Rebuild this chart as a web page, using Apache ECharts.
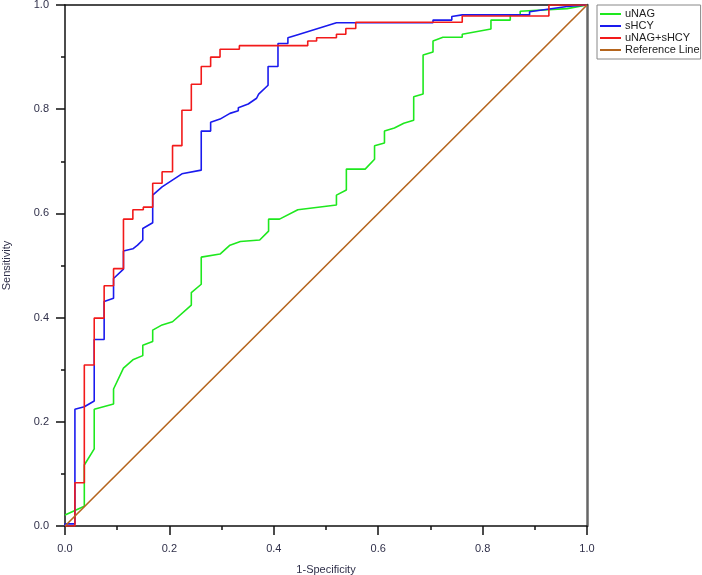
<!DOCTYPE html>
<html>
<head>
<meta charset="utf-8">
<title>ROC</title>
<script src="https://cdn.jsdelivr.net/npm/echarts@6/dist/echarts.min.js"></script>
<style>
  html, body {margin: 0; padding: 0; background: #fff;}
  #main {width: 702px; height: 575px;}
</style>
</head>
<body>
<div id="main"></div>
<script>
(function(){
  'use strict';

  /*
    ROC curve points, [1-specificity, sensitivity]
  */
  var seriesNames = ['uNAG', 'sHCY', 'uNAG+sHCY', 'Reference Line'];

  var unagPts = [
    [0, 0.021], [0.037, 0.038], [0.037, 0.117], [0.056, 0.148], [0.056, 0.224],
    [0.093, 0.234], [0.093, 0.263], [0.112, 0.303], [0.130, 0.319], [0.149, 0.327],
    [0.149, 0.347], [0.168, 0.354], [0.168, 0.376], [0.186, 0.386], [0.206, 0.392],
    [0.242, 0.424], [0.242, 0.448], [0.261, 0.464], [0.261, 0.516], [0.297, 0.522],
    [0.316, 0.539], [0.336, 0.546], [0.373, 0.549], [0.390, 0.566], [0.390, 0.589],
    [0.411, 0.589], [0.446, 0.607], [0.520, 0.616], [0.520, 0.635], [0.539, 0.645],
    [0.539, 0.685], [0.575, 0.685], [0.593, 0.704], [0.593, 0.730], [0.612, 0.735],
    [0.612, 0.758], [0.631, 0.764], [0.649, 0.773], [0.668, 0.779], [0.668, 0.824],
    [0.686, 0.829], [0.686, 0.904], [0.705, 0.910], [0.705, 0.931], [0.724, 0.938],
    [0.761, 0.938], [0.761, 0.944], [0.816, 0.954], [0.816, 0.971], [0.853, 0.971],
    [0.853, 0.981], [0.872, 0.981], [0.872, 0.988], [0.962, 0.993], [1, 1]
  ];

  var shcyPts = [
    [0, 0], [0, 0.004], [0.019, 0.004], [0.019, 0.224], [0.037, 0.229], [0.056, 0.240],
    [0.056, 0.358], [0.075, 0.358], [0.075, 0.431], [0.093, 0.437], [0.093, 0.475],
    [0.112, 0.493], [0.112, 0.528], [0.130, 0.532], [0.139, 0.539], [0.149, 0.549],
    [0.149, 0.571], [0.168, 0.582], [0.168, 0.635], [0.186, 0.651], [0.224, 0.676],
    [0.261, 0.683], [0.261, 0.758], [0.279, 0.758], [0.279, 0.775], [0.297, 0.781],
    [0.316, 0.792], [0.332, 0.797], [0.332, 0.803], [0.351, 0.810], [0.367, 0.821],
    [0.371, 0.829], [0.389, 0.846], [0.389, 0.882], [0.408, 0.882], [0.408, 0.926],
    [0.427, 0.926], [0.427, 0.937], [0.446, 0.943], [0.520, 0.966], [0.705, 0.966],
    [0.705, 0.971], [0.741, 0.971], [0.741, 0.978], [0.761, 0.981], [0.890, 0.981],
    [0.890, 0.987], [0.962, 0.997], [1, 1]
  ];

  var comboPts = [
    [0, 0], [0.019, 0], [0.019, 0.083], [0.037, 0.083], [0.037, 0.309], [0.056, 0.309],
    [0.056, 0.399], [0.075, 0.399], [0.075, 0.461], [0.093, 0.461], [0.093, 0.494],
    [0.112, 0.494], [0.112, 0.589], [0.130, 0.589], [0.130, 0.607], [0.150, 0.607],
    [0.150, 0.612], [0.168, 0.612], [0.168, 0.658], [0.186, 0.658], [0.186, 0.680],
    [0.206, 0.680], [0.206, 0.730], [0.224, 0.730], [0.224, 0.798], [0.242, 0.798],
    [0.242, 0.848], [0.261, 0.848], [0.261, 0.882], [0.279, 0.882], [0.279, 0.900],
    [0.297, 0.900], [0.297, 0.915], [0.334, 0.915], [0.334, 0.922], [0.465, 0.922],
    [0.465, 0.931], [0.482, 0.931], [0.482, 0.937], [0.520, 0.937], [0.520, 0.944],
    [0.538, 0.944], [0.538, 0.955], [0.557, 0.955], [0.557, 0.967], [0.761, 0.967],
    [0.761, 0.979], [0.927, 0.979], [0.927, 1], [1, 1]
  ];

  var refPts = [[0, 0], [1, 1]];

  var colors = ['#1ee81e', '#1a1aee', '#f21a1a', '#b5651d'];

  /*
    common axis bits
  */
  var font = 'Arial, "Liberation Sans", sans-serif',
      tickFmt = function(v){ return v.toFixed(1); };

  var valueAxis = function(name, gap, margin){
    return {
      type: 'value',
      min: 0, max: 1, interval: 0.2,
      name: name,
      nameLocation: 'middle',
      nameGap: gap,
      nameTextStyle: {fontSize: 11, color: '#30304a', fontFamily: font},
      axisLine: {show: true, onZero: false, lineStyle: {color: '#111', width: 1.5}},
      axisTick: {show: true, length: 9, lineStyle: {color: '#111', width: 1.5}},
      minorTick: {show: true, splitNumber: 2, length: 4, lineStyle: {color: '#111', width: 1.5}},
      axisLabel: {margin: margin, formatter: tickFmt, fontSize: 11, color: '#30304a', fontFamily: font},
      splitLine: {show: false}
    };
  };

  // top / right frame lines, no ticks
  var frameAxis = function(pos, color, width){
    return {
      type: 'value', position: pos, min: 0, max: 1,
      axisLine: {show: true, onZero: false, lineStyle: {color: color, width: width}},
      axisTick: {show: false}, axisLabel: {show: false}, splitLine: {show: false}
    };
  };

  var lineSeries = function(i, pts){
    return {
      name: seriesNames[i],
      type: 'line',
      data: pts,
      symbol: 'none',
      color: colors[i],
      lineStyle: {color: colors[i], width: 1.6},
      animation: false
    };
  };

  var option = {
    animation: false,
    backgroundColor: '#fff',
    grid: {left: 65, top: 5, right: 115, bottom: 49, containLabel: false, outerBoundsMode: 'none'},
    legend: {
      orient: 'vertical',
      left: 597, top: 5,
      padding: [3, 1, 3, 3],
      itemGap: 0,
      itemWidth: 21, itemHeight: 2,
      icon: 'rect',
      borderColor: '#888', borderWidth: 1,
      textStyle: {fontSize: 11, color: '#222', fontFamily: font, lineHeight: 12, padding: [0, 0, 0, -1]},
      data: seriesNames
    },
    xAxis: [
      valueAxis('1-Specificity', 38, 17),
      frameAxis('top', '#111', 1.5)
    ],
    yAxis: [
      valueAxis('Sensitivity', 53, 16),
      frameAxis('right', '#666', 2.5)
    ],
    series: [
      lineSeries(0, unagPts),
      lineSeries(1, shcyPts),
      lineSeries(2, comboPts),
      lineSeries(3, refPts)
    ]
  };

  echarts.init(document.getElementById('main')).setOption(option);
})();
</script>
</body>
</html>
